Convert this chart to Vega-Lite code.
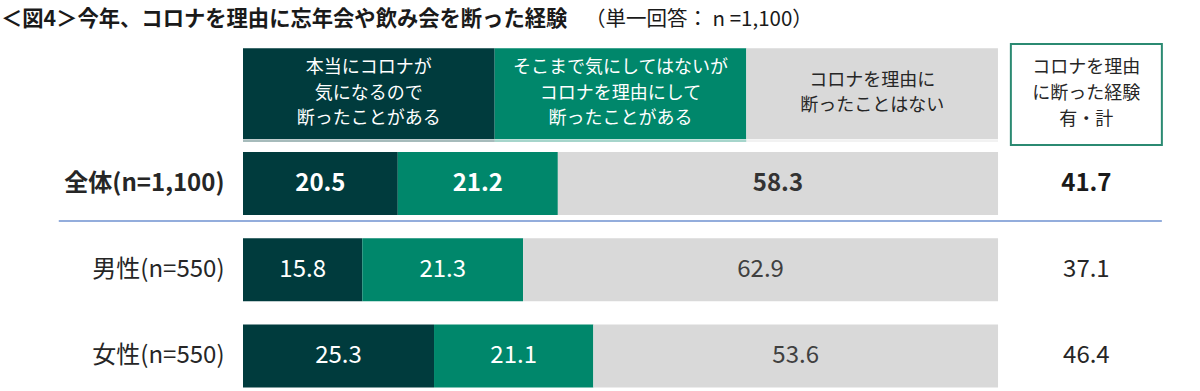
{
  "$schema": "https://vega.github.io/schema/vega-lite/v6.json",
  "width": 957,
  "height": 391,
  "autosize": "none",
  "padding": {"left": 243, "top": 0, "right": 0, "bottom": 0},
  "background": "white",
  "config": {"font": "Noto Sans CJK JP", "view": {"stroke": null}},
  "datasets": {
    "seg": [
      {"row": "全体(n=1,100)", "cat": "本当にコロナが\n気になるので\n断ったことがある", "idx": 1, "pct": 20.5},
      {"row": "全体(n=1,100)", "cat": "そこまで気にしてはないが\nコロナを理由にして\n断ったことがある", "idx": 2, "pct": 21.2},
      {"row": "全体(n=1,100)", "cat": "コロナを理由に\n断ったことはない", "idx": 3, "pct": 58.3},
      {"row": "男性(n=550)", "cat": "本当にコロナが\n気になるので\n断ったことがある", "idx": 1, "pct": 15.8},
      {"row": "男性(n=550)", "cat": "そこまで気にしてはないが\nコロナを理由にして\n断ったことがある", "idx": 2, "pct": 21.3},
      {"row": "男性(n=550)", "cat": "コロナを理由に\n断ったことはない", "idx": 3, "pct": 62.9},
      {"row": "女性(n=550)", "cat": "本当にコロナが\n気になるので\n断ったことがある", "idx": 1, "pct": 25.3},
      {"row": "女性(n=550)", "cat": "そこまで気にしてはないが\nコロナを理由にして\n断ったことがある", "idx": 2, "pct": 21.1},
      {"row": "女性(n=550)", "cat": "コロナを理由に\n断ったことはない", "idx": 3, "pct": 53.6}
    ],
    "head": [
      {"cat": "本当にコロナが\n気になるので\n断ったことがある", "idx": 1},
      {"cat": "そこまで気にしてはないが\nコロナを理由にして\n断ったことがある", "idx": 2},
      {"cat": "コロナを理由に\n断ったことはない", "idx": 3}
    ],
    "tot": [
      {"row": "全体(n=1,100)", "total": 41.7},
      {"row": "男性(n=550)", "total": 37.1},
      {"row": "女性(n=550)", "total": 46.4}
    ],
    "box": [{"label": "コロナを理由\nに断った経験\n有・計"}],
    "titletext": [{"text": "＜図4＞今年、コロナを理由に忘年会や飲み会を断った経験"}],
    "note": [{"text": "（単一回答： n =1,100）"}],
    "sep": [{"line": "区切り線"}]
  },
  "layer": [
    {
      "layer": [
        {
          "data": {"name": "seg"},
          "transform": [
            {"stack": "pct", "groupby": ["row"], "sort": [{"field": "idx", "order": "ascending"}], "as": ["x0", "x1"]}
          ],
          "mark": {"type": "bar"},
          "encoding": {
            "x": {"field": "x0", "type": "quantitative", "scale": {"domain": [0, 126.75], "nice": false, "zero": false}, "axis": null},
            "x2": {"field": "x1"},
            "y": {
              "field": "row",
              "type": "nominal",
              "scale": {"domain": ["header", "全体(n=1,100)", "男性(n=550)", "女性(n=550)"], "paddingInner": 0.27, "paddingOuter": 0.4004, "align": 0.951},
              "axis": {
                "title": null,
                "domain": false,
                "ticks": false,
                "grid": false,
                "labelPadding": 19,
                "labelFontSize": 24,
                "labelColor": "#262626",
                "labelLimit": 400,
                "labelFontWeight": {"condition": {"test": "datum.value === '全体(n=1,100)'", "value": "bold"}, "value": "normal"},
                "labelExpr": "datum.value === 'header' ? '' : datum.value"
              }
            },
            "color": {
              "field": "cat",
              "type": "nominal",
              "scale": {
                "domain": ["本当にコロナが\n気になるので\n断ったことがある", "そこまで気にしてはないが\nコロナを理由にして\n断ったことがある", "コロナを理由に\n断ったことはない"],
                "range": ["#003B3D", "#00876B", "#D9D9D9"]
              },
              "legend": null
            }
          }
        },
        {
          "data": {"name": "seg"},
          "transform": [
            {"stack": "pct", "groupby": ["row"], "sort": [{"field": "idx", "order": "ascending"}], "as": ["x0", "x1"]},
            {"filter": "datum.row === '全体(n=1,100)'"},
            {"fold": ["x0", "x1"], "as": ["edge", "pos"]},
            {"aggregate": [{"op": "mean", "field": "pos", "as": "mid"}], "groupby": ["row", "cat", "idx", "pct"]}
          ],
          "mark": {"type": "text", "fontSize": 24, "fontWeight": "bold"},
          "encoding": {
            "x": {"field": "mid", "type": "quantitative"},
            "y": {"field": "row", "type": "nominal"},
            "text": {"field": "pct", "type": "quantitative", "format": ".1f"},
            "color": {"condition": {"test": "datum.idx === 3", "value": "#333333"}, "value": "white"}
          }
        },
        {
          "data": {"name": "seg"},
          "transform": [
            {"stack": "pct", "groupby": ["row"], "sort": [{"field": "idx", "order": "ascending"}], "as": ["x0", "x1"]},
            {"filter": "datum.row !== '全体(n=1,100)'"},
            {"fold": ["x0", "x1"], "as": ["edge", "pos"]},
            {"aggregate": [{"op": "mean", "field": "pos", "as": "mid"}], "groupby": ["row", "cat", "idx", "pct"]}
          ],
          "mark": {"type": "text", "fontSize": 24, "fontWeight": "normal"},
          "encoding": {
            "x": {"field": "mid", "type": "quantitative"},
            "y": {"field": "row", "type": "nominal"},
            "text": {"field": "pct", "type": "quantitative", "format": ".1f"},
            "color": {"condition": {"test": "datum.idx === 3", "value": "#404040"}, "value": "white"}
          }
        },
        {
          "data": {"name": "tot"},
          "transform": [{"filter": "datum.row === '全体(n=1,100)'"}],
          "mark": {"type": "text", "fontSize": 24, "fontWeight": "bold", "color": "#1a1a1a"},
          "encoding": {
            "x": {"datum": 111.7},
            "y": {"field": "row", "type": "nominal"},
            "text": {"field": "total", "type": "quantitative", "format": ".1f"}
          }
        },
        {
          "data": {"name": "tot"},
          "transform": [{"filter": "datum.row !== '全体(n=1,100)'"}],
          "mark": {"type": "text", "fontSize": 24, "fontWeight": "normal", "color": "#262626"},
          "encoding": {
            "x": {"datum": 111.7},
            "y": {"field": "row", "type": "nominal"},
            "text": {"field": "total", "type": "quantitative", "format": ".1f"}
          }
        },
        {
          "data": {"name": "box"},
          "mark": {"type": "bar", "fill": "white", "stroke": "#2B8A72", "strokeWidth": 2, "height": {"band": 1.603}, "yOffset": -2.7},
          "encoding": {
            "x": {"datum": 101.7},
            "x2": {"datum": 121.7},
            "y": {"datum": "header"}
          }
        },
        {
          "data": {"name": "box"},
          "mark": {"type": "text", "fontSize": 18, "lineBreak": "\n", "lineHeight": 26, "color": "#262626", "yOffset": -29},
          "encoding": {
            "x": {"datum": 111.7},
            "y": {"datum": "header"},
            "text": {"field": "label"}
          }
        },
        {
          "data": {"name": "titletext"},
          "mark": {"type": "text", "fontSize": 21.3, "fontWeight": "bold", "align": "left", "color": "#1a1a1a", "yOffset": -77},
          "encoding": {
            "x": {"datum": -32.05},
            "y": {"datum": "header"},
            "text": {"field": "text"}
          }
        },
        {
          "data": {"name": "note"},
          "mark": {"type": "text", "fontSize": 20.5, "align": "left", "color": "#1a1a1a", "yOffset": -77},
          "encoding": {
            "x": {"datum": 45.3},
            "y": {"datum": "header"},
            "text": {"field": "text"}
          }
        },
        {
          "data": {"name": "sep"},
          "mark": {"type": "rule", "color": "#6F92D0", "strokeWidth": 1.5, "yOffset": 6},
          "encoding": {
            "x": {"datum": -24.4},
            "x2": {"datum": 121.7},
            "y": {"datum": "全体(n=1,100)", "bandPosition": 1}
          }
        }
      ]
    },
    {
      "data": {"name": "head"},
      "layer": [
        {
          "mark": {"type": "bar", "height": {"band": 1.444}, "yOffset": -3.5},
          "encoding": {
            "x": {"field": "cat", "type": "nominal", "sort": null, "scale": {"paddingInner": 0, "paddingOuter": 0.4014, "align": 0}, "axis": null},
            "y": {"datum": "header"},
            "color": {"field": "cat", "type": "nominal", "legend": null}
          }
        },
        {
          "mark": {"type": "bar", "height": 2, "yOffset": 43.8, "opacity": 0.35},
          "encoding": {
            "x": {"field": "cat", "type": "nominal", "sort": null},
            "y": {"datum": "header"},
            "color": {"field": "cat", "type": "nominal", "legend": null}
          }
        },
        {
          "transform": [{"filter": "datum.idx !== 3"}],
          "mark": {"type": "text", "fontSize": 18, "lineBreak": "\n", "lineHeight": 25.5, "yOffset": -29, "color": "white"},
          "encoding": {
            "x": {"field": "cat", "type": "nominal", "sort": null},
            "y": {"datum": "header"},
            "text": {"field": "cat"}
          }
        },
        {
          "transform": [{"filter": "datum.idx === 3"}],
          "mark": {"type": "text", "fontSize": 18, "lineBreak": "\n", "lineHeight": 25.5, "yOffset": -16.25, "color": "#262626"},
          "encoding": {
            "x": {"field": "cat", "type": "nominal", "sort": null},
            "y": {"datum": "header"},
            "text": {"field": "cat"}
          }
        }
      ]
    }
  ],
  "resolve": {"scale": {"x": "independent"}}
}
